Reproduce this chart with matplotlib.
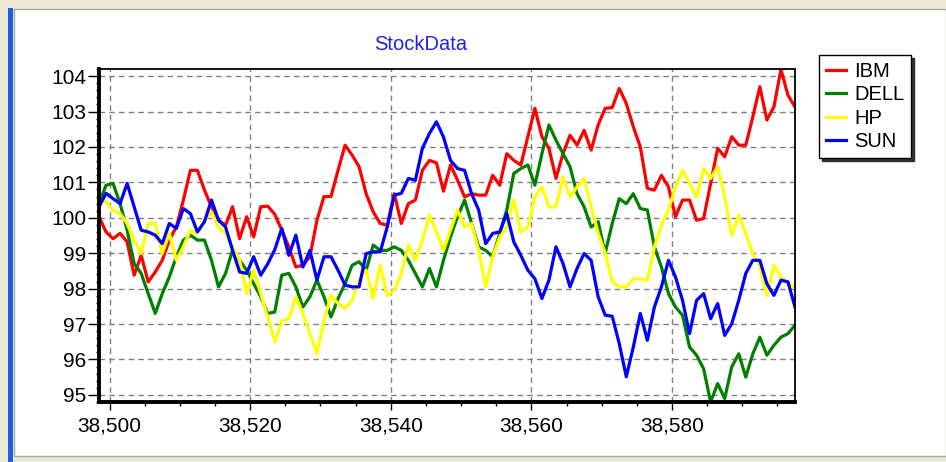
import numpy as np
import matplotlib.pyplot as plt
from matplotlib.patches import Rectangle
from matplotlib.ticker import MultipleLocator, FuncFormatter

plt.rcParams['font.family'] = ['Liberation Sans', 'DejaVu Sans']

# values (one point per day)
start_day = 38498.5

ibm = [100.03, 99.6, 99.41, 99.56, 99.32, 98.38, 98.94, 98.19, 98.47, 98.8,
       99.37, 99.74, 100.5, 101.34, 101.34, 100.78, 100.31, 99.93, 99.79, 100.31,
       99.41, 100.03, 99.46, 100.31, 100.33, 100.1, 99.65, 99.18, 98.61, 98.66,
       98.9, 99.93, 100.6, 100.6, 101.34, 102.05, 101.77, 101.44, 100.68, 100.17,
       99.84, 99.79, 100.68, 99.84, 100.4, 100.5, 101.34, 101.62, 101.55, 100.75,
       101.49, 101.06, 100.59, 100.68, 100.64, 100.64, 101.2, 100.92, 101.81, 101.62,
       101.49, 102.29, 103.09, 102.29, 101.96, 101.11, 101.81, 102.33, 102.05, 102.47,
       101.91, 102.62, 103.09, 103.11, 103.65, 103.23, 102.57, 102.0, 100.83, 100.78,
       101.2, 100.87, 100.03, 100.5, 100.5, 99.93, 99.98, 100.97, 101.96, 101.72,
       102.29, 102.05, 102.05, 102.85, 103.7, 102.76, 103.13, 104.19, 103.46, 103.13]

dell = [100.4, 100.92, 100.97, 100.4, 99.65, 98.71, 98.43, 97.86, 97.3, 97.86,
        98.33, 98.9, 99.37, 99.51, 99.37, 99.37, 98.8, 98.05, 98.43, 99.09,
        98.8, 98.52, 98.14, 97.77, 97.3, 97.34, 98.38, 98.43, 98.05, 97.48,
        97.77, 98.24, 97.77, 97.2, 97.72, 98.14, 98.66, 98.76, 98.52, 99.23,
        99.08, 99.08, 99.18, 99.08, 98.8, 98.43, 98.05, 98.57, 98.05, 98.8,
        99.46, 100.03, 100.5, 99.84, 99.18, 99.08, 98.9, 99.56, 100.22, 101.25,
        101.39, 101.49, 100.92, 101.81, 102.62, 102.19, 101.81, 101.44, 100.68, 100.31,
        99.74, 99.89, 99.0, 99.84, 100.54, 100.4, 100.68, 100.26, 100.22, 99.18,
        98.61, 97.86, 97.48, 97.25, 96.35, 96.12, 95.74, 94.8, 95.32, 94.9,
        95.79, 96.16, 95.5, 96.16, 96.63, 96.12, 96.4, 96.63, 96.73, 96.97]

hp = [100.5, 100.45, 100.22, 100.12, 99.84, 99.37, 98.99, 99.84, 99.84, 98.99,
      99.56, 98.8, 99.18, 99.65, 99.56, 99.93, 100.17, 99.74, 99.56, 99.18,
      98.8, 97.86, 98.52, 97.86, 97.2, 96.5, 97.1, 97.15, 97.77, 97.3,
      96.73, 96.17, 97.1, 97.81, 97.58, 97.44, 97.67, 98.24, 98.52, 97.72,
      98.66, 97.81, 97.95, 98.43, 99.23, 98.8, 99.37, 100.07, 99.6, 99.08,
      99.65, 100.22, 99.74, 99.84, 99.08, 98.05, 98.9, 99.46, 99.74, 100.5,
      99.6, 99.74, 100.59, 100.87, 100.31, 100.31, 101.16, 100.59, 100.87, 101.11,
      100.31, 99.56, 99.0, 98.2, 98.05, 98.05, 98.28, 98.28, 98.24, 99.18,
      99.79, 100.22, 100.87, 101.34, 100.97, 100.59, 101.39, 101.11, 101.44, 100.59,
      99.51, 100.07, 99.56, 98.99, 98.61, 97.81, 98.66, 98.33, 98.14, 98.05]

sun = [100.31, 100.69, 100.54, 100.4, 100.97, 100.31, 99.65, 99.6, 99.51, 99.27,
       99.84, 99.7, 100.26, 100.12, 99.6, 99.89, 100.5, 99.93, 99.74, 99.08,
       98.47, 98.43, 98.9, 98.38, 98.7, 99.1, 99.7, 98.94, 99.51, 98.61,
       99.08, 98.24, 98.9, 98.9, 98.52, 98.1, 98.05, 98.05, 98.99, 99.04,
       99.04, 99.74, 100.64, 100.69, 101.11, 101.06, 101.96, 102.38, 102.71, 102.28,
       101.62, 101.39, 101.34, 100.68, 100.22, 99.27, 99.56, 99.6, 100.12, 99.32,
       98.94, 98.52, 98.28, 97.72, 98.24, 99.18, 98.71, 98.05, 98.57, 98.99,
       98.8, 97.77, 97.25, 97.22, 96.45, 95.51, 96.35, 97.3, 96.54, 97.48,
       98.05, 98.8, 98.33, 97.67, 96.73, 97.67, 97.86, 97.15, 97.58, 96.68,
       97.01, 97.67, 98.43, 98.8, 98.8, 98.14, 97.81, 98.24, 98.19, 97.48]

names = ['IBM', 'DELL', 'HP', 'SUN']
series = [ibm, dell, hp, sun]
colors = ['#FF0000', '#008000', '#FFFF00', '#0000FF']

days = start_day + np.arange(len(ibm))

W, H = 946, 462
fig = plt.figure(figsize=(W / 100, H / 100), dpi=100)
fig.patch.set_facecolor('#ECE9D8')


def box(x0, y0, w, h):
    """pixel box (top-left origin) -> figure fraction rect"""
    return (x0 / W, 1 - (y0 + h) / H), w / W, h / H


# window look: white panel with a blue focus bar on the left
xy, w, h = box(14, 9, W - 14, 447)
fig.add_artist(Rectangle(xy, w, h, transform=fig.transFigure, facecolor='white',
                         edgecolor='#A8A8A0', linewidth=1, zorder=-10))
xy, w, h = box(8, 8, 5, H - 8)
fig.add_artist(Rectangle(xy, w, h, transform=fig.transFigure, facecolor='#1E5FE0',
                         edgecolor='none', zorder=-9))

ax = fig.add_axes([99 / W, 1 - 402 / H, (795 - 99) / W, (402 - 69) / H])
ax.set_facecolor('white')

for name, vals, c in zip(names, series, colors):
    ax.plot(days, vals, color=c, linewidth=2.3, label=name)

ax.set_xlim(days[0], days[-1])
ax.set_ylim(94.8, 104.2)

ax.xaxis.set_major_locator(MultipleLocator(20))
ax.xaxis.set_minor_locator(MultipleLocator(5))
ax.yaxis.set_major_locator(MultipleLocator(1))
ax.yaxis.set_minor_locator(MultipleLocator(0.2))
ax.xaxis.set_major_formatter(FuncFormatter(lambda v, p: f'{v:,.0f}'))
ax.yaxis.set_major_formatter(FuncFormatter(lambda v, p: f'{v:.0f}'))

ax.tick_params(axis='x', which='major', direction='out', length=5.5, width=1, pad=5, labelsize=15)
ax.tick_params(axis='x', which='minor', direction='out', length=3, width=1)
ax.tick_params(axis='y', which='major', direction='out', length=8, width=1, pad=1, labelsize=15)
ax.tick_params(axis='y', which='minor', direction='out', length=2, width=1)

ax.grid(True, which='major', color='#808080', linestyle=(0, (4, 3)), linewidth=1)

ax.spines['left'].set_linewidth(2.8)
ax.spines['bottom'].set_linewidth(2.8)
ax.spines['top'].set_linewidth(1.3)
ax.spines['right'].set_linewidth(1.3)

fig.text(421 / W, 1 - 45 / H, 'StockData', color='#2222EE', fontsize=14.5,
         ha='center', va='center')

leg = ax.legend(loc='upper left', bbox_to_anchor=(819 / W, 1 - 55 / H),
                bbox_transform=fig.transFigure, borderaxespad=0, fancybox=False,
                edgecolor='black', framealpha=1, shadow={'color': '#202020', 'alpha': 0.9},
                borderpad=0.35, handlelength=1.0, handletextpad=0.4,
                labelspacing=0.22, fontsize=14.5)
leg.get_frame().set_linewidth(1)

fig.savefig('out.png', dpi=100)
